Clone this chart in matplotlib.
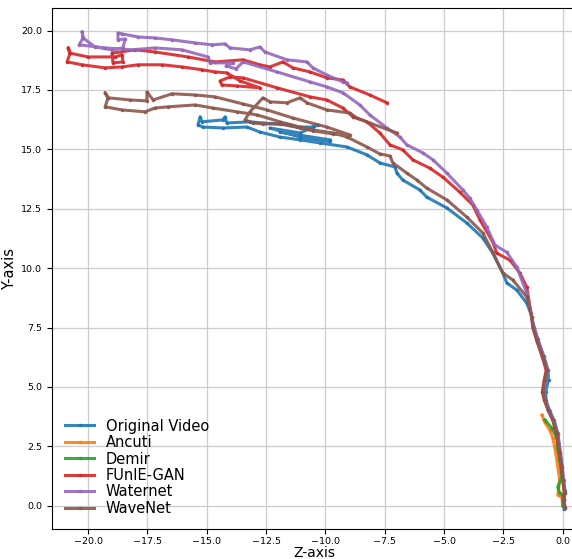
import matplotlib
matplotlib.use("Agg")
import matplotlib.pyplot as plt

# trajectories (Z, Y)
orig_z = [0.06, 0.04, 0.1, 0.02, -0.02, -0.1, -0.2, -0.35, -0.55, -0.7, -0.72, -0.6, -0.62, -0.8, -1.05, -1.2, -1.35,
          -1.52, -1.94, -2.36, -2.53, -2.95, -3.37, -4.04, -4.88, -5.73, -6.02, -6.74, -6.99, -7.07, -7.71, -8.25,
          -9.09, -10.23, -11.07, -11.92, -12.76, -13.31, -14.32, -15.16, -15.37, -15.28, -15.2, -14.32, -14.23,
          -14.15, -13.18, -12.63, -11.49, -11.2, -10.53, -10.32, -11.07, -12.34, -11.07, -9.81, -11.07, -11.92, -9.81]
orig_y = [-0.15, 0.3, 0.6, 1.1, 1.6, 2.2, 3.0, 3.55, 4.0, 4.4, 4.8, 5.3, 5.7, 6.3, 7.0, 7.5, 8.1,
          8.53, 9.08, 9.38, 9.8, 10.63, 11.27, 11.9, 12.53, 12.99, 13.29, 13.71, 14.0, 14.26, 14.43, 14.77,
          15.1, 15.27, 15.4, 15.52, 15.73, 15.94, 15.9, 15.94, 16.03, 16.37, 16.16, 16.24, 16.37,
          16.11, 16.16, 16.11, 16.03, 15.94, 15.94, 16.03, 15.69, 15.9, 15.52, 15.35, 15.56, 15.73, 15.4]

ancuti_z = [0.0, -0.04, -0.21, -0.13, -0.25, -0.34, -0.42, -0.55, -0.76, -0.88]
ancuti_y = [0.0, 0.37, 0.45, 1.08, 1.92, 2.47, 2.85, 3.19, 3.52, 3.82]

demir_z = [0.0, 0.0, -0.13, -0.21, -0.04, -0.13, -0.21, -0.25, -0.46, -0.76]
demir_y = [0.0, 0.45, 0.53, 0.79, 1.21, 1.92, 2.35, 2.85, 3.27, 3.61]

funie_z = [0.08, 0.05, 0.06, 0.0, -0.06, -0.15, -0.27, -0.42, -0.62, -0.78, -0.86, -0.78, -0.7, -0.86, -1.1, -1.26,
           -1.31, -1.52, -1.81, -2.23, -2.78, -2.95, -3.49, -3.79, -4.34, -5.05, -5.6, -6.32, -6.74, -7.28, -7.71,
           -8.25, -8.84, -9.26, -9.94, -10.65, -12.04, -13.47, -14.02, -14.44, -14.36, -13.73, -12.76, -13.6,
           -14.15, -14.65, -15.2, -16.04, -16.88, -17.89, -18.57, -19.28, -20.25, -20.88, -20.76, -20.84, -20.76,
           -20.0, -18.86, -18.57, -18.53, -18.95, -18.99, -18.02, -17.18, -15.79, -14.65, -13.47, -12.76, -12.34,
           -11.79, -11.37, -10.65, -9.94, -9.26, -8.97, -8.13, -7.41]
funie_y = [-0.05, 0.25, 0.55, 1.05, 1.65, 2.25, 3.05, 3.6, 4.05, 4.45, 4.8, 5.3, 5.7, 6.25, 6.95, 7.5,
           7.95, 9.21, 9.8, 10.34, 10.63, 11.1, 12.03, 12.66, 13.2, 13.83, 14.21, 14.56, 14.98, 15.19, 15.69,
           16.16, 16.37, 16.74, 17.08, 17.21, 17.59, 18.01, 18.05, 17.88, 17.71, 17.67, 17.59, 17.88,
           18.22, 18.26, 18.35, 18.47, 18.56, 18.56, 18.47, 18.43, 18.56, 18.68, 19.05, 19.27, 19.05,
           18.89, 18.89, 18.98, 18.68, 18.64, 19.05, 19.19, 19.1, 18.89, 18.68, 18.77, 18.56, 18.47,
           18.68, 18.43, 18.26, 18.01, 17.92, 17.63, 17.29, 16.96]

water_z = [0.1, 0.06, 0.1, 0.04, -0.02, -0.1, -0.22, -0.38, -0.6, -0.72, -0.8, -0.72, -0.64, -0.8, -1.05, -1.22,
           -1.31, -1.52, -1.94, -2.36, -2.86, -3.2, -3.62, -3.92, -4.21, -4.88, -5.47, -5.89, -6.57, -6.86, -7.41,
           -8.13, -8.55, -9.26, -9.94, -10.65, -12.04, -13.47, -13.77, -14.19, -13.89, -14.86, -14.95, -16.04,
           -17.18, -18.15, -19.28, -20.38, -20.21, -20.25, -20.21, -19.71, -18.99, -18.53, -18.44, -18.74, -18.74,
           -18.57, -17.89, -17.18, -16.46, -15.49, -14.78, -14.23, -14.02, -13.18, -12.76, -12.55, -11.62, -10.78,
           -10.53, -9.94, -9.26, -9.09]
water_y = [-0.1, 0.25, 0.55, 1.1, 1.6, 2.2, 3.05, 3.6, 4.0, 4.45, 4.75, 5.3, 5.7, 6.25, 7.0, 7.5,
           7.95, 8.96, 10.05, 10.67, 10.97, 11.73, 12.45, 12.95, 13.29, 14.0, 14.56, 14.85, 15.19, 15.52, 15.9,
           16.45, 16.87, 17.38, 17.63, 17.84, 18.26, 18.68, 18.39, 18.51, 18.64, 18.64, 18.89, 19.19,
           19.27, 19.19, 19.27, 19.4, 19.69, 19.95, 19.69, 19.31, 19.19, 19.27, 19.65, 19.61, 19.9,
           19.86, 19.73, 19.69, 19.61, 19.48, 19.4, 19.44, 19.27, 19.19, 19.31, 19.1, 18.77, 18.68,
           18.43, 18.13, 17.84, 17.8]

wave_z = [0.08, 0.04, 0.08, 0.0, -0.04, -0.13, -0.25, -0.42, -0.63, -0.76, -0.84, -0.76, -0.67, -0.84, -1.09, -1.26,
          -1.31, -1.52, -2.1, -2.53, -2.95, -3.37, -4.04, -4.88, -5.73, -6.15, -6.57, -7.16, -7.28, -7.71,
          -8.25, -9.09, -9.68, -10.53, -11.07, -11.92, -12.88, -13.73, -14.74, -15.49, -16.63, -17.18, -17.6,
          -18.57, -19.28, -19.16, -19.28, -19.16, -18.23, -17.52, -17.52, -17.26, -16.46, -15.49, -14.65,
          -13.47, -12.46, -11.37, -9.94, -8.97, -9.68, -10.53, -11.07, -11.92, -12.63, -13.05, -13.39, -13.18,
          -12.63, -12.34, -11.62, -11.07, -10.78, -9.94, -8.97, -8.67, -8.13, -6.99]
wave_y = [-0.1, 0.24, 0.53, 1.08, 1.63, 2.22, 3.06, 3.61, 4.03, 4.45, 4.75, 5.29, 5.71, 6.26, 6.98, 7.52,
          7.95, 8.79, 9.5, 9.8, 10.67, 11.48, 12.15, 12.87, 13.37, 13.71, 14.0, 14.43, 14.72, 14.81,
          15.1, 15.52, 15.69, 15.82, 15.94, 16.16, 16.45, 16.58, 16.74, 16.87, 16.79, 16.74, 16.58,
          16.66, 16.79, 17.17, 17.38, 17.17, 17.08, 17.04, 17.42, 17.08, 17.34, 17.29, 17.21,
          16.91, 16.66, 16.32, 15.94, 15.61, 15.65, 15.78, 15.9, 16.07, 16.07, 16.11, 16.24, 16.58,
          17.17, 17.0, 16.96, 17.17, 16.96, 16.66, 16.53, 16.32, 16.11, 15.69]

labels = ['Original Video', 'Ancuti', 'Demir', 'FUnIE-GAN', 'Waternet', 'WaveNet']
series = [(orig_z, orig_y), (ancuti_z, ancuti_y), (demir_z, demir_y),
          (funie_z, funie_y), (water_z, water_y), (wave_z, wave_y)]

fig = plt.figure(figsize=(5.72, 5.59), dpi=100)
# axes run past the right edge, like the cropped original
ax = fig.add_axes([52 / 572, 30 / 559, 525 / 572, 521 / 559])

for (z, y), lab in zip(series, labels):
    ax.plot(z, y, marker='.', markersize=3, linewidth=2.2, alpha=0.9, label=lab)

ax.set_xlim(-21.52, 0.6)
ax.set_ylim(-0.98, 20.95)
ax.set_xlabel('Z-axis', fontsize=10, labelpad=0)
ax.set_ylabel('Y-axis', fontsize=10.5, labelpad=3)
ax.tick_params(labelsize=6.8)
ax.tick_params(axis='x', pad=2)
ax.grid(True, color='#cccccc', linewidth=0.9)
ax.legend(loc='lower left', frameon=False, fontsize=10.5, labelspacing=0.1)

fig.savefig('out.png', dpi=100)
